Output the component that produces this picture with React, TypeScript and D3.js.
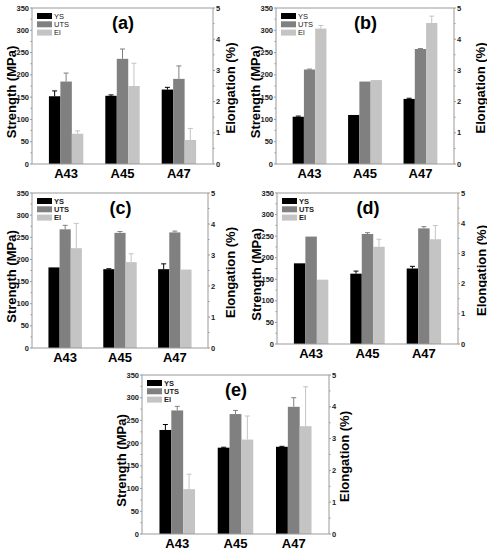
import * as d3 from 'd3'

const categories = ['A43', 'A45', 'A47']
const seriesNames = ['YS', 'UTS', 'El']
const seriesColors = ['#000000', '#808080', '#c4c4c4']
const strengthTicks = [0, 50, 100, 150, 200, 250, 300, 350]
const elongTicks = [0, 1, 2, 3, 4, 5]

// (a)
const aYS = [152, 153, 167]
const aYSErr = [12, 2, 5]
const aUTS = [185, 236, 191]
const aUTSErr = [19, 22, 29]
const aEl = [0.97, 2.5, 0.77]
const aElErr = [0.09, 0.73, 0.37]

// (b)
const bYS = [106, 110, 146]
const bYSErr = [1.5, 0, 1.5]
const bUTS = [212, 185, 258]
const bUTSErr = [1, 0, 1]
const bEl = [4.34, 2.69, 4.52]
const bElErr = [0.1, 0, 0.22]

// (c)
const cYS = [182, 178, 178]
const cYSErr = [0, 1, 12]
const cUTS = [268, 260, 261]
const cUTSErr = [9, 3, 3]
const cEl = [3.22, 2.77, 2.53]
const cElErr = [0.8, 0.27, 0]

// (d)
const dYS = [187, 163, 175]
const dYSErr = [0, 6, 5]
const dUTS = [249, 255, 268]
const dUTSErr = [0, 3, 4]
const dEl = [2.13, 3.22, 3.47]
const dElErr = [0, 0.25, 0.45]

// (e)
const eYS = [229, 190, 192]
const eYSErr = [12, 1, 1]
const eUTS = [272, 264, 280]
const eUTSErr = [9, 8, 20]
const eEl = [1.41, 2.97, 3.39]
const eElErr = [0.47, 0.74, 1.24]

const FONT = "'Liberation Sans', Arial, sans-serif"

interface PanelProps {
  label: string
  x0: number
  x1: number
  y0: number
  y1: number
  rightTitleGap: number
  boldLegend: boolean
  ys: number[]
  ysErr: number[]
  uts: number[]
  utsErr: number[]
  el: number[]
  elErr: number[]
}

const Panel = (p: PanelProps) => {
  const xScale = d3.scaleBand<string>()
    .domain(categories)
    .range([p.x0, p.x1])
    .paddingInner(0.39)
    .paddingOuter(0.3)
  const subScale = d3.scaleBand<string>()
    .domain(seriesNames)
    .range([0, xScale.bandwidth()])
  const yScale = d3.scaleLinear().domain([0, 350]).range([p.y1, p.y0])
  const eScale = d3.scaleLinear().domain([0, 5]).range([p.y1, p.y0])

  const values = [p.ys, p.uts, p.el]
  const errs = [p.ysErr, p.utsErr, p.elErr]
  const scales = [yScale, yScale, eScale]

  const minorS = d3.range(25, 350, 50)
  const minorE = d3.range(0.5, 5, 1)
  const frameColor = '#9a9a9a'

  const bars = seriesNames.map((s, si) =>
    categories.map((c, ci) => {
      const sc = scales[si]
      const v = values[si][ci]
      const e = errs[si][ci]
      const bx = (xScale(c) ?? 0) + (subScale(s) ?? 0)
      const bw = subScale.bandwidth()
      const cx = bx + bw / 2
      return (
        <g key={s + c}>
          {e > 0 && (
            <g stroke={seriesColors[si]} strokeWidth={1}>
              <line x1={cx} x2={cx} y1={sc(v)} y2={sc(v + e)} />
              <line x1={cx - 2.5} x2={cx + 2.5} y1={sc(v + e)} y2={sc(v + e)} />
            </g>
          )}
          <rect x={bx} y={sc(v)} width={bw} height={p.y1 - sc(v)} fill={seriesColors[si]} />
        </g>
      )
    })
  )

  const midY = (p.y0 + p.y1) / 2

  return (
    <g fontFamily={FONT}>
      {bars}
      <rect x={p.x0} y={p.y0} width={p.x1 - p.x0} height={p.y1 - p.y0} fill="none" stroke={frameColor} strokeWidth={1} />
      {/* left axis */}
      {strengthTicks.map(t => (
        <g key={'l' + t}>
          <line x1={p.x0 - 2} x2={p.x0} y1={yScale(t)} y2={yScale(t)} stroke={frameColor} />
          <text x={p.x0 - 3} y={yScale(t)} dy="0.35em" textAnchor="end" fontSize={7.5} fontWeight="bold" fill="#222">{t}</text>
        </g>
      ))}
      {minorS.map(t => (
        <line key={'lm' + t} x1={p.x0 - 1.5} x2={p.x0} y1={yScale(t)} y2={yScale(t)} stroke={frameColor} />
      ))}
      {/* right axis */}
      {elongTicks.map(t => (
        <g key={'r' + t}>
          <line x1={p.x1} x2={p.x1 + 2} y1={eScale(t)} y2={eScale(t)} stroke={frameColor} />
          <text x={p.x1 + 3} y={eScale(t)} dy="0.35em" textAnchor="start" fontSize={7.5} fontWeight="bold" fill="#222">{t}</text>
        </g>
      ))}
      {minorE.map(t => (
        <line key={'rm' + t} x1={p.x1} x2={p.x1 + 1.5} y1={eScale(t)} y2={eScale(t)} stroke={frameColor} />
      ))}
      {/* category labels */}
      {categories.map(c => (
        <text key={'c' + c} x={(xScale(c) ?? 0) + xScale.bandwidth() / 2} y={p.y1 + 14} textAnchor="middle" fontSize={13} fontWeight="bold" fill="#000">{c}</text>
      ))}
      {/* axis titles */}
      <text transform={`translate(${p.x0 - 21},${midY + 6}) rotate(-90)`} textAnchor="middle" dominantBaseline="central" fontSize={13} fontWeight="bold">Strength (MPa)</text>
      <text transform={`translate(${p.x1 + p.rightTitleGap},${midY + 2}) rotate(-90)`} textAnchor="middle" dominantBaseline="central" fontSize={13} fontWeight="bold">Elongation (%)</text>
      {/* legend */}
      {seriesNames.map((s, i) => (
        <g key={'lg' + s}>
          <rect x={p.x0 + 5} y={p.y0 + 5 + i * 8.3} width={15} height={6} fill={seriesColors[i]} />
          <text x={p.x0 + 22} y={p.y0 + 8 + i * 8.3} dy="0.35em" fontSize={7.5} fontWeight={p.boldLegend ? 'bold' : 'normal'} fill="#222">{s}</text>
        </g>
      ))}
      <text x={(p.x0 + p.x1) / 2 + 0.5} y={p.y0 + 21} textAnchor="middle" fontSize={18} fontWeight="bold">{p.label}</text>
    </g>
  )
}

export default function App() {
  return (
    <svg width={487} height={550} style={{ position: 'absolute', left: 0, top: 0, background: '#fff' }}>
      <rect width={487} height={550} fill="#fff" />
      <Panel label="(a)" x0={32} x1={213} y0={8} y1={164} rightTitleGap={17} boldLegend={false}
        ys={aYS} ysErr={aYSErr} uts={aUTS} utsErr={aUTSErr} el={aEl} elErr={aElErr} />
      <Panel label="(b)" x0={276} x1={454} y0={8} y1={164} rightTitleGap={26} boldLegend={false}
        ys={bYS} ysErr={bYSErr} uts={bUTS} utsErr={bUTSErr} el={bEl} elErr={bElErr} />
      <Panel label="(c)" x0={32} x1={208} y0={193} y1={348} rightTitleGap={22} boldLegend={true}
        ys={cYS} ysErr={cYSErr} uts={cUTS} utsErr={cUTSErr} el={cEl} elErr={cElErr} />
      <Panel label="(d)" x0={277} x1={458} y0={193} y1={344} rightTitleGap={23} boldLegend={true}
        ys={dYS} ysErr={dYSErr} uts={dUTS} utsErr={dUTSErr} el={dEl} elErr={dElErr} />
      <Panel label="(e)" x0={142} x1={329} y0={375} y1={534} rightTitleGap={15} boldLegend={true}
        ys={eYS} ysErr={eYSErr} uts={eUTS} utsErr={eUTSErr} el={eEl} elErr={eElErr} />
    </svg>
  )
}
